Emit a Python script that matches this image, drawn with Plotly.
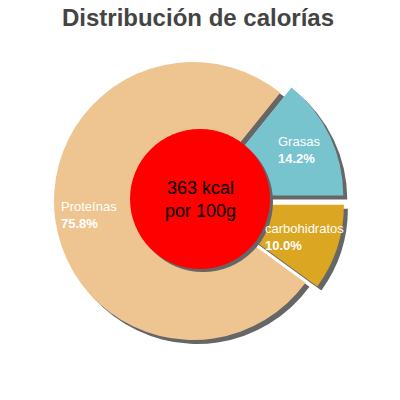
import math
import plotly.graph_objs as go

# nutrient split, kcal per 100g
labels = ["Grasas", "carbohidratos", "Proteínas"]
values = [14.2, 10.0, 75.8]
pulls = [0.09, 0.09, 0.0]
colors = ["#77c4ce", "#dba622", "#eec591"]
kcal_text = "363 kcal<br>por 100g"
title_text = "Distribución de calorías"

W = 400
H = 400
cx, cy, R = 193, 201, 139     # pie centre / radius in px
shadow = 4
rot = 90 - values[0] * 3.6    # first slice ends at 3 o'clock

half = R * (1 + max(pulls))

def px(x, y):
    return x / W, 1 - y / H

def dom(x, y):
    x0, y1 = px(x - half, y - half)
    x1, y0 = px(x + half, y + half)
    return dict(x=[x0, x1], y=[y0, y1])

def circle(x, y, r, color):
    x0, y1 = px(x - r, y - r)
    x1, y0 = px(x + r, y + r)
    fig.add_shape(type="circle", xref="paper", yref="paper",
                  x0=x0, x1=x1, y0=y0, y1=y1, fillcolor=color, line_width=0)

fig = go.Figure()

# drop shadow of the pie
fig.add_trace(go.Pie(labels=labels, values=values, pull=pulls, sort=False,
                     direction="clockwise", rotation=rot,
                     domain=dom(cx + shadow, cy + shadow),
                     marker=dict(colors=["#666666"] * 3),
                     textinfo="none", hoverinfo="skip", showlegend=False))

fig.add_trace(go.Pie(labels=labels, values=values, pull=pulls, sort=False,
                     direction="clockwise", rotation=rot,
                     domain=dom(cx, cy),
                     marker=dict(colors=colors),
                     textinfo="none", hoverinfo="skip", showlegend=False))

# red centre disc + its shadow
rx, ry, rr = 200, 199, 70
circle(rx + 3, ry + 3, rr, "#666666")
circle(rx, ry, rr, "#ff0000")
tx, ty = px(rx, ry)
fig.add_annotation(text=kcal_text, xref="paper", yref="paper",
                   x=tx, y=ty, showarrow=False,
                   font=dict(color="black", size=18, family="Liberation Sans, Arial"))

# slice labels at the middle angle of each slice
total = sum(values)
start = rot
for lab, v, p in zip(labels, values, pulls):
    ang = math.radians(start + v / total * 180)
    r = 105 + p * R
    lx, ly = px(cx + r * math.sin(ang), cy - r * math.cos(ang))
    fig.add_annotation(text=lab + "<br><b>" + "%.1f%%" % (v / total * 100) + "</b>",
                       xref="paper", yref="paper", x=lx, y=ly,
                       xanchor="center", yanchor="middle", align="left",
                       showarrow=False,
                       font=dict(color="white", size=13, family="Liberation Sans, Arial"))
    start += v / total * 360

ttx, tty = px(198, 18)
fig.update_layout(width=W, height=H, margin=dict(l=0, r=0, t=0, b=0),
                  paper_bgcolor="white", plot_bgcolor="white",
                  title=dict(text="<b>" + title_text + "</b>", x=ttx, xanchor="center",
                             y=tty, yanchor="middle",
                             font=dict(size=24, color="#444444", family="Liberation Sans, Arial")))

# drop the default 8px page margin so the figure fills the window
fig.write_html("out.html", config={"displayModeBar": False},
               post_script="document.body.style.margin='0';")
